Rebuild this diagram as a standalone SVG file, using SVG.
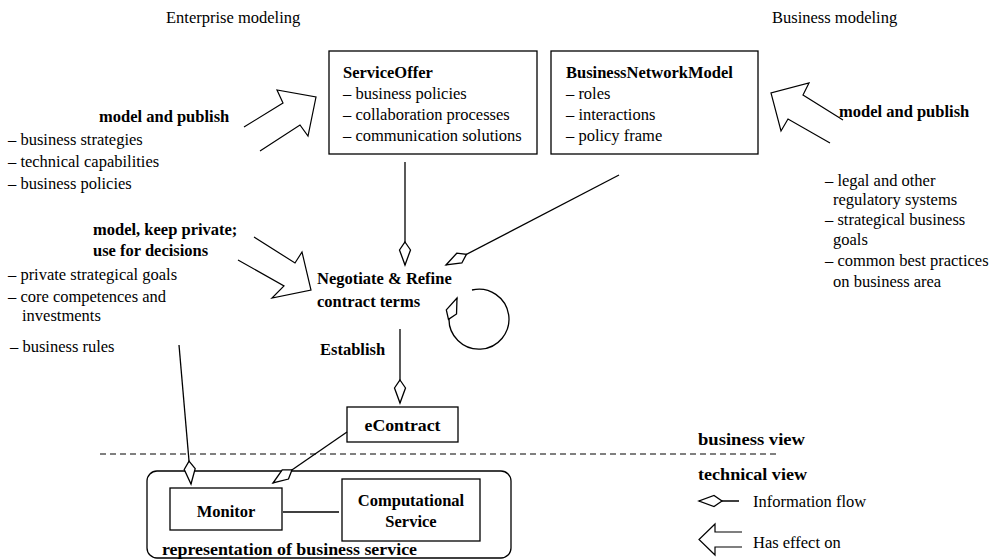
<svg xmlns="http://www.w3.org/2000/svg" width="990" height="560" viewBox="0 0 990 560">
<style>
  text { font-size: 16.5px; fill: #000; }
  .b { font-weight: bold; }
  .box { fill: #fff; stroke: #000; stroke-width: 1.3; }
  .ln { fill: none; stroke: #000; stroke-width: 1.3; }
  .big { fill: none; stroke: #000; stroke-width: 1.2; stroke-linejoin: miter; }
  .dash { fill: none; stroke: #000; stroke-width: 1; stroke-dasharray: 6 4; }
</style>
<defs>
  <marker id="dia" viewBox="-1 -7 25 14" markerWidth="25" markerHeight="14" refX="23" refY="0" orient="auto" markerUnits="userSpaceOnUse" overflow="visible">
    <path d="M0,0 L8,-5.5 L23,0 L8,5.5 Z" fill="#fff" stroke="#000" stroke-width="1.3" stroke-linejoin="miter"/>
  </marker>
</defs>
<rect width="990" height="560" fill="#fff"/>

<g font-family="Liberation Serif, Times New Roman, DejaVu Serif, serif">
<g id="headings">
  <text x="166" y="23">Enterprise modeling</text>
  <text x="772" y="23">Business modeling</text>
</g>

<g id="serviceoffer">
  <rect class="box" x="329" y="51" width="208" height="103"/>
  <text class="b" x="343" y="78">ServiceOffer</text>
  <text x="343" y="99">– business policies</text>
  <text x="343" y="120">– collaboration processes</text>
  <text x="343" y="141">– communication solutions</text>
</g>

<g id="businessnetworkmodel">
  <rect class="box" x="551" y="51" width="207" height="103"/>
  <text class="b" x="566" y="78">BusinessNetworkModel</text>
  <text x="566" y="99">– roles</text>
  <text x="566" y="120">– interactions</text>
  <text x="566" y="141">– policy frame</text>
</g>

<g id="enterprise-public">
  <text class="b" x="99" y="122">model and publish</text>
  <text x="8" y="145">– business strategies</text>
  <text x="8" y="167">– technical capabilities</text>
  <text x="8" y="189">– business policies</text>
</g>

<g id="enterprise-private">
  <text class="b" x="93" y="235">model, keep private;</text>
  <text class="b" x="93" y="256">use for decisions</text>
  <text x="8" y="280">– private strategical goals</text>
  <text x="8" y="302">– core competences and</text>
  <text x="22" y="321">investments</text>
  <text x="10" y="352">– business rules</text>
</g>

<g id="business-public">
  <text class="b" x="839" y="117">model and publish</text>
  <text x="825" y="186">– legal and other</text>
  <text x="833" y="205">regulatory systems</text>
  <text x="825" y="225">– strategical business</text>
  <text x="833" y="245">goals</text>
  <text x="825" y="266">– common best practices</text>
  <text x="833" y="287">on business area</text>
</g>

<g id="negotiate">
  <text class="b" x="317" y="284">Negotiate &amp; Refine</text>
  <text class="b" x="317" y="307">contract terms</text>
</g>

<g id="establish-label">
  <text class="b" x="320" y="355">Establish</text>
</g>

<g id="econtract">
  <rect class="box" x="347" y="407" width="111" height="35"/>
  <text class="b" x="402.5" y="431" text-anchor="middle" textLength="76" lengthAdjust="spacingAndGlyphs">eContract</text>
</g>

<g id="views">
  <line class="dash" x1="100" y1="454" x2="780" y2="454"/>
  <text class="b" x="698" y="445" textLength="107" lengthAdjust="spacingAndGlyphs">business view</text>
  <text class="b" x="698" y="480" textLength="109" lengthAdjust="spacingAndGlyphs">technical view</text>
</g>

<g id="business-service">
  <rect x="147" y="471" width="364" height="87" rx="10" ry="10" fill="none" stroke="#000" stroke-width="1.3"/>
  <text class="b" x="162" y="555" textLength="255" lengthAdjust="spacingAndGlyphs">representation of business service</text>
</g>

<g id="monitor">
  <rect class="box" x="170" y="488" width="112" height="42"/>
  <text class="b" x="226" y="517" text-anchor="middle">Monitor</text>
</g>

<g id="computational-service">
  <rect class="box" x="342" y="479" width="138" height="62"/>
  <text class="b" x="411" y="506" text-anchor="middle">Computational</text>
  <text class="b" x="411" y="527" text-anchor="middle">Service</text>
</g>

<g id="connectors">
  <polyline class="big" points="244,127 283,103 277,90 316,97 308,136 300,125 260,151"/>
  <polyline class="big" points="843,120 803,95 809,83 771,93 781,131 788,119 830,143"/>
  <polyline class="big" points="254,237 295,263 302,252 311,290 272,298 284,286 238,260"/>
  <line class="ln" x1="405" y1="162" x2="405" y2="265" marker-end="url(#dia)"/>
  <line class="ln" x1="619" y1="175" x2="446" y2="265" marker-end="url(#dia)"/>
  <path class="ln" d="M472,290 A30,30 0 1,1 449,318 L457,298" marker-end="url(#dia)"/>
  <line class="ln" x1="400" y1="329" x2="400" y2="403" marker-end="url(#dia)"/>
  <line class="ln" x1="347" y1="432" x2="273" y2="483" marker-end="url(#dia)"/>
  <line class="ln" x1="179" y1="345" x2="191" y2="484" marker-end="url(#dia)"/>
  <line class="ln" x1="283" y1="512" x2="339" y2="512"/>
</g>

<g id="legend">
  <line class="ln" x1="739" y1="501" x2="699" y2="501" marker-end="url(#dia)"/>
  <text x="753" y="507">Information flow</text>
  <polyline class="big" points="742,532 715,532 715,524 699,539.5 715,555 715,547 742,547"/>
  <text x="753" y="548">Has effect on</text>
</g>
</g>
</svg>
